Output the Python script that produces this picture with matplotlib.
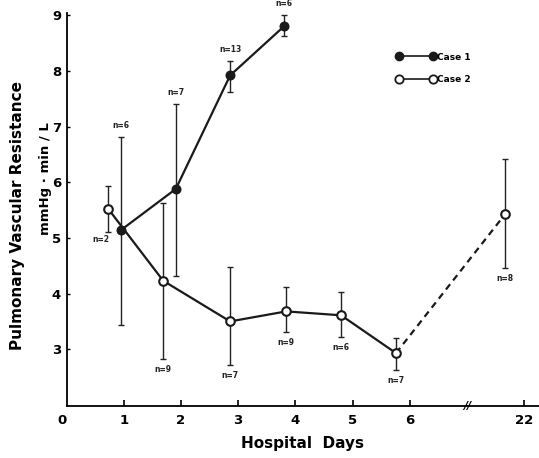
import matplotlib
matplotlib.use("Agg")
import matplotlib.pyplot as plt
from matplotlib.lines import Line2D

# Case 1 (filled circles)
c1_x = [0.95, 1.91, 2.86, 3.80]
c1_y = [5.14, 5.88, 7.92, 8.80]
c1_lo = [3.43, 4.32, 7.62, 8.62]
c1_hi = [6.81, 7.40, 8.17, 9.00]
c1_n = ["n=6", "n=7", "n=13", "n=6"]

# Case 2 (open circles), last point is day 22 (after the axis break)
c2_x = [0.73, 1.69, 2.86, 3.84, 4.80, 5.76, 7.67]
c2_y = [5.52, 4.23, 3.50, 3.68, 3.61, 2.93, 5.43]
c2_lo = [5.11, 2.82, 2.71, 3.31, 3.22, 2.62, 4.46]
c2_hi = [5.93, 5.63, 4.47, 4.11, 4.02, 3.20, 6.41]
c2_n = ["n=2", "n=9", "n=7", "n=9", "n=6", "n=7", "n=8"]

xtick_pos = [0, 1, 2, 3, 4, 5, 6, 8]
xtick_labels = ["0", "1", "2", "3", "4", "5", "6", "22"]
ytick_pos = [3, 4, 5, 6, 7, 8, 9]

fig = plt.figure(figsize=(5.39, 4.58), dpi=100)
ax = fig.add_axes([0.1235, 0.1135, 0.8765, 0.858])

lw = 1.6
ms = 6.2

# error bars
ax.errorbar(c1_x, c1_y,
            yerr=[[y - l for y, l in zip(c1_y, c1_lo)], [h - y for y, h in zip(c1_y, c1_hi)]],
            fmt="none", ecolor="#222222", elinewidth=1.0, capsize=2.5, capthick=1.0, zorder=2)
ax.errorbar(c2_x, c2_y,
            yerr=[[y - l for y, l in zip(c2_y, c2_lo)], [h - y for y, h in zip(c2_y, c2_hi)]],
            fmt="none", ecolor="#222222", elinewidth=1.0, capsize=2.5, capthick=1.0, zorder=2)

# lines
ax.plot(c1_x, c1_y, color="#1a1a1a", lw=lw, marker="o", ms=ms,
        mfc="#1a1a1a", mec="#1a1a1a", zorder=4)
ax.plot(c2_x[:-1], c2_y[:-1], color="#1a1a1a", lw=lw, zorder=3)
ax.plot(c2_x[-2:], c2_y[-2:], color="#1a1a1a", lw=lw, ls=(0, (3, 2.2)), zorder=3)
ax.plot(c2_x, c2_y, ls="none", marker="o", ms=ms, mfc="white",
        mec="#1a1a1a", mew=1.5, zorder=5)

# n labels
lab_kw = dict(fontsize=5.5, fontweight="bold", ha="center", color="#222222")
for x, h, t in zip(c1_x, c1_hi, c1_n):
    ax.text(x, h + 0.13, t, va="bottom", **lab_kw)
for i, (x, l, t) in enumerate(zip(c2_x, c2_lo, c2_n)):
    if i == 0:
        ax.text(x - 0.13, l - 0.06, t, va="top", **lab_kw)
    else:
        ax.text(x, l - 0.1, t, va="top", **lab_kw)

# legend
h1 = Line2D([], [], color="#1a1a1a", lw=1.2, marker="o", ms=6, mfc="#1a1a1a", mec="#1a1a1a")
h2 = Line2D([], [], color="#1a1a1a", lw=1.2, marker="o", ms=6, mfc="white", mec="#1a1a1a", mew=1.3)
leg = ax.legend([h1, h2], ["Case 1", "Case 2"], numpoints=2, frameon=False,
                loc="upper left", bbox_to_anchor=(0.68, 0.92), handlelength=4.4,
                handletextpad=0.2, labelspacing=1.5,
                prop=dict(size=6.5, weight="bold"))

# axes styling
ax.set_xlim(0, 8.26)
ax.set_ylim(1.98, 9.04)
ax.spines["top"].set_visible(False)
ax.spines["right"].set_visible(False)
ax.spines["left"].set_linewidth(1.3)
ax.spines["bottom"].set_linewidth(1.3)
ax.set_xticks(xtick_pos)
ax.set_xticklabels(xtick_labels, fontsize=9.5, fontweight="bold")
ax.set_yticks(ytick_pos)
ax.set_yticklabels([str(v) for v in ytick_pos], fontsize=9.5, fontweight="bold")
ax.tick_params(axis="x", direction="in", length=4, width=1.2, pad=6)
ax.tick_params(axis="y", direction="in", length=2, width=1.0, pad=4)
ax.xaxis.get_major_ticks()[0].tick1line.set_visible(False)
ax.xaxis.get_major_ticks()[0].label1.set_horizontalalignment("right")

# axis break mark
ax.text(7.0, 1.98, "//", fontsize=8, fontweight="bold", ha="center", va="center",
        style="italic", clip_on=False)

ax.set_xlabel("Hospital  Days", fontsize=11, fontweight="bold", labelpad=6)
fig.text(0.033, 0.53, "Pulmonary Vascular Resistance", rotation=90, fontsize=11,
         fontweight="bold", ha="center", va="center")
fig.text(0.085, 0.61, "mmHg \u00b7 min / L", rotation=90, fontsize=9.5,
         fontweight="bold", ha="center", va="center")

fig.savefig("out.png", dpi=100)
